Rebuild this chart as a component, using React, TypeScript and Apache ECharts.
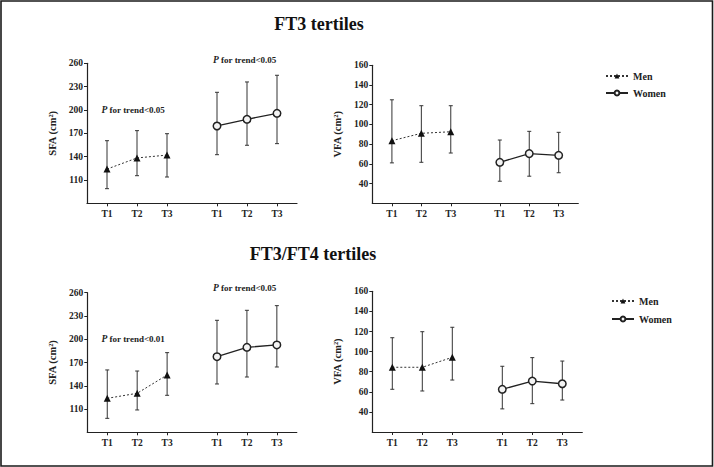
import React, { useEffect, useRef } from "react";
import * as echarts from "echarts";

const categories = ["T1", "T2", "T3", "T1", "T2", "T3"];
const xPositions = [2, 5, 8, 13, 16, 19];
const sfaTicks = [80, 110, 140, 170, 200, 230, 260];
const vfaTicks = [20, 40, 60, 80, 100, 120, 140, 160];

// FT3 tertiles – SFA
const ft3SfaMen = [124, 138.3, 142];
const ft3SfaMenLow = [98.8, 115.5, 113.8];
const ft3SfaMenHigh = [160.5, 173.4, 169.5];
const ft3SfaWomen = [179.4, 188, 195.7];
const ft3SfaWomenLow = [142.5, 154.6, 156.7];
const ft3SfaWomenHigh = [222.7, 236, 244.6];
// FT3 tertiles – VFA
const ft3VfaMen = [83.5, 91, 92.6];
const ft3VfaMenLow = [61, 61.6, 71];
const ft3VfaMenHigh = [125, 119, 119];
const ft3VfaWomen = [61.6, 70.4, 68.7];
const ft3VfaWomenLow = [42.4, 47.5, 51];
const ft3VfaWomenHigh = [84.2, 93, 92];
// FT3/FT4 tertiles – SFA
const ratioSfaMen = [123.8, 130.3, 153.9];
const ratioSfaMenLow = [98, 108.8, 127.7];
const ratioSfaMenHigh = [160.4, 159, 182.7];
const ratioSfaWomen = [177.5, 189.6, 192.6];
const ratioSfaWomenLow = [142.3, 151.3, 164.2];
const ratioSfaWomenHigh = [224.4, 237.3, 243.3];
// FT3/FT4 tertiles – VFA
const ratioVfaMen = [84.4, 84.4, 94.3];
const ratioVfaMenLow = [62.5, 60.8, 71.7];
const ratioVfaMenHigh = [113.8, 119.8, 124.2];
const ratioVfaWomen = [62.5, 70.7, 68];
const ratioVfaWomenLow = [43, 48.2, 51.8];
const ratioVfaWomenHigh = [85.4, 94, 90.6];

const FONT = '"Liberation Serif", "Times New Roman", serif';
const INK = "#222";

export default function App() {
  const ref = useRef<HTMLDivElement>(null);
  useEffect(() => {
    if (!ref.current) return;
    const chart = echarts.init(ref.current, undefined, { renderer: "svg" });

    const grids = [
      { left: 87, top: 63.3, width: 210, height: 140 },
      { left: 372.3, top: 65.3, width: 206, height: 138 },
      { left: 87.3, top: 292.7, width: 209.5, height: 139.6 },
      { left: 372.3, top: 291.3, width: 210, height: 140.7 },
    ];

    const panels = [
      { men: ft3SfaMen, menLow: ft3SfaMenLow, menHigh: ft3SfaMenHigh, women: ft3SfaWomen, womenLow: ft3SfaWomenLow, womenHigh: ft3SfaWomenHigh, ticks: sfaTicks, name: "SFA (cm²)" },
      { men: ft3VfaMen, menLow: ft3VfaMenLow, menHigh: ft3VfaMenHigh, women: ft3VfaWomen, womenLow: ft3VfaWomenLow, womenHigh: ft3VfaWomenHigh, ticks: vfaTicks, name: "VFA (cm²)" },
      { men: ratioSfaMen, menLow: ratioSfaMenLow, menHigh: ratioSfaMenHigh, women: ratioSfaWomen, womenLow: ratioSfaWomenLow, womenHigh: ratioSfaWomenHigh, ticks: sfaTicks, name: "SFA (cm²)" },
      { men: ratioVfaMen, menLow: ratioVfaMenLow, menHigh: ratioVfaMenHigh, women: ratioVfaWomen, womenLow: ratioVfaWomenLow, womenHigh: ratioVfaWomenHigh, ticks: vfaTicks, name: "VFA (cm²)" },
    ];

    const axisLine = { lineStyle: { color: INK, width: 1.2 } };
    const labelStyle = { color: INK, fontFamily: FONT, fontWeight: "bold" as const, fontSize: 9.5 };

    const xAxis = grids.map((_, i) => ({
      type: "value",
      gridIndex: i,
      min: 0,
      max: 21,
      axisLine,
      splitLine: { show: false },
      axisTick: { show: true, length: 3, lineStyle: { color: INK, width: 1 }, customValues: xPositions },
      axisLabel: {
        ...labelStyle,
        margin: 6,
        customValues: xPositions,
        formatter: (v: number) => {
          const k = xPositions.indexOf(v);
          return k >= 0 ? categories[k] : "";
        },
      },
    }));

    const yAxis = panels.map((p, i) => ({
      type: "value",
      gridIndex: i,
      min: p.ticks[0],
      max: p.ticks[p.ticks.length - 1],
      name: p.name,
      nameLocation: "middle",
      nameGap: 29,
      nameTextStyle: { color: INK, fontFamily: FONT, fontWeight: "bold", fontSize: 10.5 },
      axisLine: { show: true, ...axisLine },
      splitLine: { show: false },
      axisTick: { show: true, length: 3, lineStyle: { color: INK, width: 1 }, customValues: p.ticks.slice(1) },
      axisLabel: { ...labelStyle, margin: 4, customValues: p.ticks.slice(1) },
    }));

    const errRender = (params: any, api: any) => {
      const x = api.value(0);
      const lo = api.coord([x, api.value(1)]);
      const hi = api.coord([x, api.value(2)]);
      const w = 2;
      const style = { stroke: "#333", lineWidth: 1 };
      return {
        type: "group",
        children: [
          { type: "line", shape: { x1: lo[0], y1: lo[1], x2: hi[0], y2: hi[1] }, style },
          { type: "line", shape: { x1: lo[0] - w, y1: lo[1], x2: lo[0] + w, y2: lo[1] }, style },
          { type: "line", shape: { x1: hi[0] - w, y1: hi[1], x2: hi[0] + w, y2: hi[1] }, style },
        ],
      };
    };

    const series: any[] = [];
    panels.forEach((p, i) => {
      const menX = xPositions.slice(0, 3);
      const womenX = xPositions.slice(3, 6);
      series.push({
        type: "custom",
        xAxisIndex: i,
        yAxisIndex: i,
        renderItem: errRender,
        data: menX.map((x, k) => [x, p.menLow[k], p.menHigh[k]]),
        z: 1,
        silent: true,
      });
      series.push({
        type: "custom",
        xAxisIndex: i,
        yAxisIndex: i,
        renderItem: errRender,
        data: womenX.map((x, k) => [x, p.womenLow[k], p.womenHigh[k]]),
        z: 1,
        silent: true,
      });
      series.push({
        name: "Men",
        type: "line",
        xAxisIndex: i,
        yAxisIndex: i,
        data: menX.map((x, k) => [x, p.men[k]]),
        symbol: "triangle",
        symbolSize: 7,
        lineStyle: { color: "#333", width: 1, type: [2, 2] },
        itemStyle: { color: "#111", borderColor: "#111", borderWidth: 0 },
        z: 3,
      });
      series.push({
        name: "Women",
        type: "line",
        xAxisIndex: i,
        yAxisIndex: i,
        data: womenX.map((x, k) => [x, p.women[k]]),
        symbol: "circle",
        symbolSize: 7.5,
        lineStyle: { color: "#222", width: 1.3, type: "solid" },
        itemStyle: { color: "#f4f4f4", borderColor: "#222", borderWidth: 1.5 },
        z: 3,
      });
    });

    const legendBase = {
      orient: "vertical",
      itemWidth: 22,
      itemHeight: 6,
      data: ["Men", "Women"],
      textStyle: { color: INK, fontFamily: FONT, fontWeight: "bold", fontSize: 10 },
      selectedMode: false,
    };

    const pText = (x: number, y: number, val: string) => ({
      type: "text",
      x,
      y,
      style: {
        text: "{i|P}{n| for trend<" + val + "}",
        verticalAlign: "middle",
        align: "left",
        rich: {
          i: { fontStyle: "italic", fontWeight: "bold", fontSize: 9.5, fontFamily: FONT, fill: INK },
          n: { fontWeight: "bold", fontSize: 9, fontFamily: FONT, fill: INK },
        },
      },
    });

    const title = (x: number, y: number, t: string) => ({
      type: "text",
      x,
      y,
      style: {
        text: t,
        align: "center",
        verticalAlign: "middle",
        fontSize: 18,
        fontWeight: "bold",
        fontFamily: FONT,
        fill: "#111",
      },
    });

    chart.setOption({
      animation: false,
      backgroundColor: "#fff",
      grid: grids,
      xAxis,
      yAxis,
      series,
      legend: [
        { ...legendBase, left: 600, top: 66, itemGap: 7 },
        { ...legendBase, left: 606, top: 291, itemGap: 8 },
      ],
      graphic: [
        {
          type: "rect",
          shape: { x: 1, y: 1, width: 711.5, height: 465 },
          style: { fill: "none", stroke: "#1a1a1a", lineWidth: 1.6 },
          silent: true,
        },
        title(319, 24, "FT3 tertiles"),
        title(313, 253.5, "FT3/FT4 tertiles"),
        pText(101.5, 109.5, "0.05"),
        pText(213, 59.5, "0.05"),
        pText(101.5, 338.5, "0.01"),
        pText(213, 288, "0.05"),
      ],
    });

    return () => chart.dispose();
  }, []);

  return (
    <div
      ref={ref}
      style={{ position: "absolute", left: 0, top: 0, width: 714, height: 467, background: "#fff" }}
    />
  );
}
